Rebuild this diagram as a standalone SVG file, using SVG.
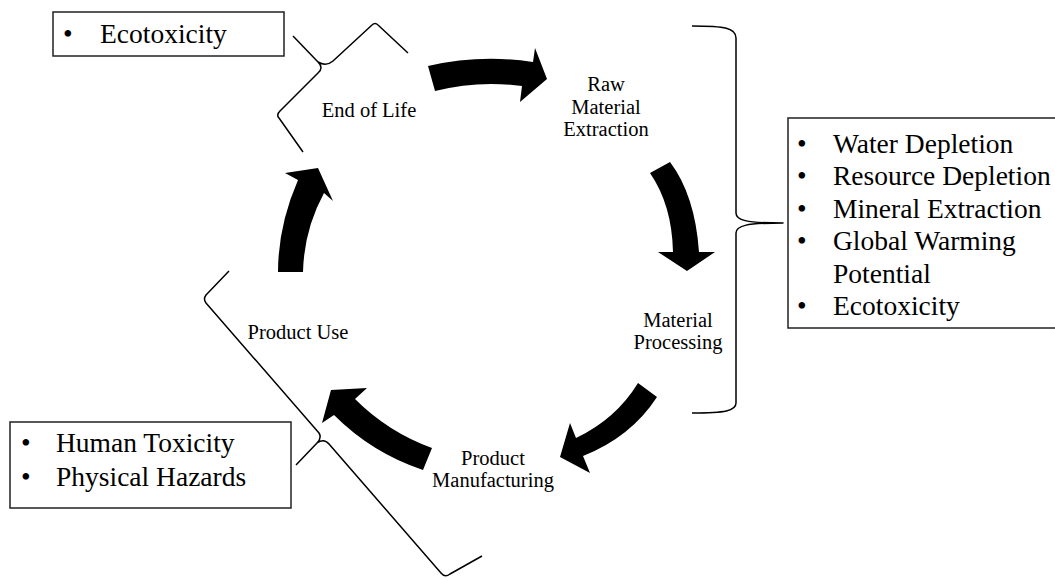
<svg xmlns="http://www.w3.org/2000/svg" width="1055" height="578" viewBox="0 0 1055 578">
<style>
.lbl{font-family:"Liberation Serif","Times New Roman",serif;font-size:20.5px;fill:#000;text-anchor:middle}
.box{fill:#fff;stroke:#222;stroke-width:1.5}
.bt{font-family:"Liberation Serif","Times New Roman",serif;font-size:27.5px;fill:#000}
.brace{fill:none;stroke:#000;stroke-width:1.5;stroke-linejoin:round}
.arr{fill:#000}
</style>
<rect width="1055" height="578" fill="#fff"/>
<g id="connectors">
<path class="arr" d="M428,66 Q480,54 533,62 L535,48 L547,79 L520,102 L522,86 Q478,80 435,91 Z"/>
<path class="arr" d="M650,173 L670,162 Q695,195 699,252 L715,252 L687,271 L658,252 L673,252 Q672,205 650,173 Z"/>
<path class="arr" d="M638,383 Q616,419 576,438 L570,423 L560,457 L590,473 L583,456 Q631,437 657,397 Z"/>
<path class="arr" d="M432,448 Q388,432 355,399 L367,388 L331,390 L322,423 L334,415 Q372,453 423,470 Z"/>
<path class="arr" d="M278,272 L303,272 Q304,230 324,193 L333,201 L318,168 L285,173 L298,180 Q278,226 278,272 Z"/>
<path class="brace" d="M692,26 C725,26 736,28 736,38 L736,213 C736,220 745,223 783,223 C745,223 736,226 736,233 L736,403 C736,411 725,413 692,413"/>
<path class="brace" d="M408,53 L378,25 Q375,22 372,25 L333,61 Q326,67 318,62 L293,36 M318,62 Q324,68 318,73 L280,111 Q276,115 279,118 L303,152"/>
<path class="brace" d="M229,271 L206,295 Q203,299 206,303 L319,433 Q322,438 317,443 L296,465 M317,443 Q324,438 329,444 L441,573 Q445,578 450,574 L482,556"/>
</g>
<g id="end-of-life"><text class="lbl" x="369" y="117">End of Life</text></g>
<g id="raw-material-extraction"><text class="lbl" x="606" y="91">Raw</text><text class="lbl" x="606" y="113.5">Material</text><text class="lbl" x="606" y="136">Extraction</text></g>
<g id="material-processing"><text class="lbl" x="678" y="327">Material</text><text class="lbl" x="678" y="349">Processing</text></g>
<g id="product-manufacturing"><text class="lbl" x="493" y="465">Product</text><text class="lbl" x="493" y="487">Manufacturing</text></g>
<g id="product-use"><text class="lbl" x="298" y="339">Product Use</text></g>
<g id="box-end-of-life">
<rect class="box" x="53" y="12" width="231" height="44"/>
<text class="bt" x="63" y="43">•</text><text class="bt" x="100" y="43">Ecotoxicity</text>
</g>
<g id="box-extraction">
<rect class="box" x="788" y="118" width="280" height="210"/>
<text class="bt" x="797" y="152.5">•</text><text class="bt" x="833" y="152.5">Water Depletion</text>
<text class="bt" x="797" y="185">•</text><text class="bt" x="833" y="185">Resource Depletion</text>
<text class="bt" x="797" y="217.5">•</text><text class="bt" x="833" y="217.5">Mineral Extraction</text>
<text class="bt" x="797" y="250">•</text><text class="bt" x="833" y="250">Global Warming</text>
<text class="bt" x="833" y="282.5">Potential</text>
<text class="bt" x="797" y="315">•</text><text class="bt" x="833" y="315">Ecotoxicity</text>
</g>
<g id="box-product-use">
<rect class="box" x="10" y="422" width="281" height="86"/>
<text class="bt" x="21" y="452">•</text><text class="bt" x="56" y="452">Human Toxicity</text>
<text class="bt" x="21" y="486">•</text><text class="bt" x="56" y="486">Physical Hazards</text>
</g>
</svg>
